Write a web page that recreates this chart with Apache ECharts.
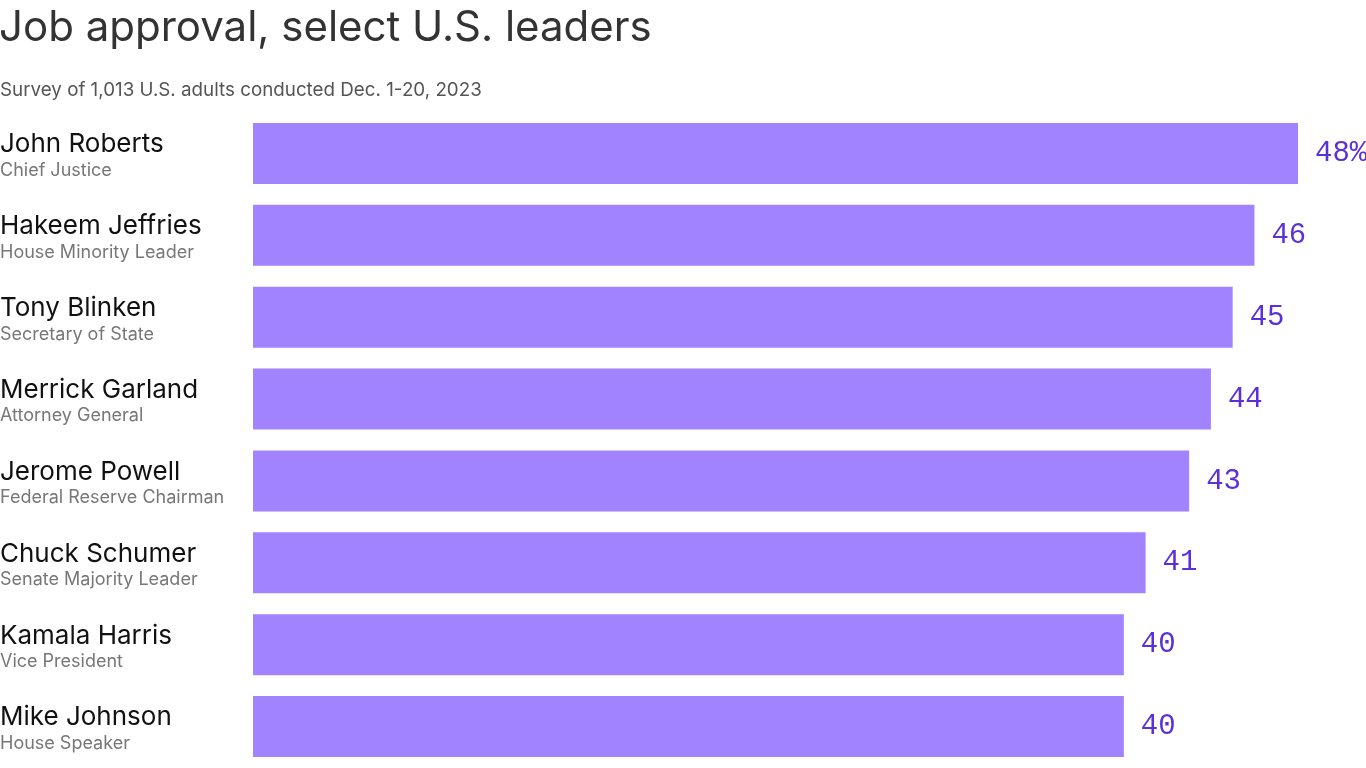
<!DOCTYPE html>
<html><head><meta charset="utf-8">
<script src="https://cdn.jsdelivr.net/npm/echarts@6/dist/echarts.min.js"></script>
<style>html,body{margin:0;padding:0;background:#fff}#c{width:1366px;height:768px}</style>
</head><body><div id="c"></div>
<script>
const names = ["John Roberts","Hakeem Jeffries","Tony Blinken","Merrick Garland","Jerome Powell","Chuck Schumer","Kamala Harris","Mike Johnson"];
const roles = ["Chief Justice","House Minority Leader","Secretary of State","Attorney General","Federal Reserve Chairman","Senate Majority Leader","Vice President","House Speaker"];
const approval = [48,46,45,44,43,41,40,40];

const chart = echarts.init(document.getElementById('c'));
chart.setOption({
  animation:false,
  title:[
    {text:"Job approval, select U.S. leaders", left:-1, top:7, padding:0,
     textStyle:{fontFamily:"Inter", fontSize:42, fontWeight:400, color:"#333"}},
    {text:"Survey of 1,013 U.S. adults conducted Dec. 1-20, 2023", left:0, top:81, padding:0,
     textStyle:{fontFamily:"Inter", fontSize:18.8, fontWeight:400, color:"#555"}}
  ],
  grid:{left:253, top:112.5, width:1045, height:655, containLabel:false, outerBoundsMode:'none'},
  xAxis:{type:'value', min:0, max:48, show:false},
  yAxis:{type:'category', inverse:true, data:names,
    axisLine:{show:false}, axisTick:{show:false},
    axisLabel:{margin:253, align:'left', padding:[8,0,0,0],
      formatter:function(v,i){return '{n|'+v+'}\n{s|'+roles[i]+'}';},
      rich:{
        n:{fontFamily:"Inter", fontSize:26, color:"#111", lineHeight:26},
        s:{fontFamily:"Inter", fontSize:18, color:"#777", lineHeight:26}
      }}
  },
  series:[{type:'bar', data:approval, barWidth:61,
    itemStyle:{color:"#a182ff"},
    label:{show:true, position:'right', distance:17,
      fontFamily:"Liberation Mono", fontSize:29, color:"#5b2fd9",
      formatter:function(p){return p.dataIndex===0 ? p.value+'%' : String(p.value);}}
  }]
});
</script></body></html>
